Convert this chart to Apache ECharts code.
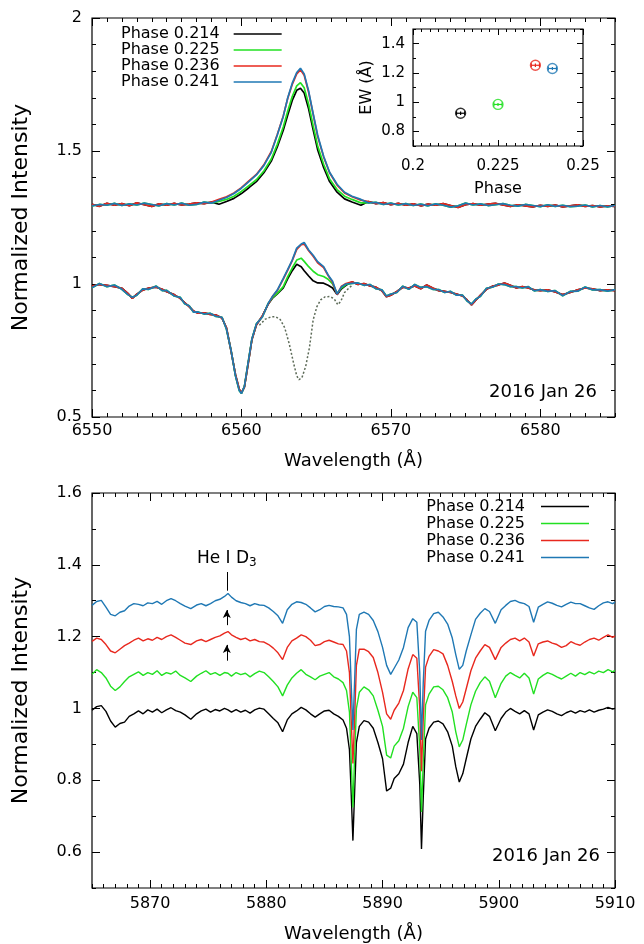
<!DOCTYPE html>
<html>
<head>
<meta charset="utf-8">
<script src="https://cdn.jsdelivr.net/npm/echarts@6/dist/echarts.min.js"></script>
<style>
  html, body { margin: 0; padding: 0; background: #fff; }
  #chart { width: 644px; height: 944px; }
</style>
</head>
<body>
<div id="chart"></div>
<script>
// series names and colours
const phaseNames = ['Phase 0.214', 'Phase 0.225', 'Phase 0.236', 'Phase 0.241']
const inkColors = ['#000000', '#22e022', '#e8281e', '#1f78b4']

// ---------- H-alpha panel (top) ----------
const haTicks = [6550, 6560, 6570, 6580]
const haYTicks = [0.5, 1, 1.5, 2]

// observed spectra, wings shared by the phases (two noisy readings, A and B)
const lowLeftWave = [6550.0, 6550.5, 6551.0, 6551.5, 6552.0, 6552.4, 6552.7, 6553.0, 6553.4, 6553.8,
  6554.3, 6554.7, 6555.0, 6555.5, 6555.9, 6556.2, 6556.5, 6556.8, 6557.1, 6557.5,
  6557.9, 6558.3, 6558.7, 6559.0, 6559.3, 6559.6, 6559.85, 6560.0, 6560.2, 6560.45,
  6560.7, 6561.0, 6561.4, 6561.8]
const lowLeftA = [0.992, 0.998, 0.995, 0.990, 0.984, 0.965, 0.946, 0.962, 0.977, 0.985,
  0.988, 0.980, 0.971, 0.960, 0.946, 0.930, 0.915, 0.898, 0.890, 0.892,
  0.886, 0.883, 0.872, 0.835, 0.750, 0.660, 0.605, 0.591, 0.612, 0.700,
  0.790, 0.846, 0.880, 0.925]
const lowLeftB = [0.986, 1.002, 0.990, 0.996, 0.980, 0.960, 0.950, 0.958, 0.982, 0.980,
  0.992, 0.975, 0.976, 0.955, 0.950, 0.926, 0.918, 0.894, 0.895, 0.887,
  0.890, 0.878, 0.875, 0.830, 0.752, 0.655, 0.600, 0.588, 0.615, 0.705,
  0.793, 0.850, 0.876, 0.928]
// H-alpha core, differs per phase
const lowCoreWave = [6562.1, 6562.4, 6562.8, 6563.1, 6563.4, 6563.7, 6564.0, 6564.2, 6564.5, 6564.8,
  6565.1, 6565.5, 6565.8, 6566.1, 6566.4, 6566.7, 6567.0]
const lowCoreBlack = [0.948, 0.963, 0.985, 1.020, 1.050, 1.074, 1.065, 1.050, 1.030, 1.012,
  1.004, 1.003, 0.995, 0.985, 0.960, 0.982, 0.995]
const lowCoreGreen = [0.950, 0.965, 0.990, 1.028, 1.060, 1.090, 1.097, 1.085, 1.065, 1.048,
  1.035, 1.028, 1.018, 1.000, 0.965, 0.985, 0.998]
const lowCoreRed = [0.955, 0.975, 1.018, 1.052, 1.088, 1.130, 1.148, 1.150, 1.125, 1.104,
  1.080, 1.062, 1.032, 1.006, 0.960, 0.992, 1.002]
const lowCoreBlue = [0.955, 0.977, 1.021, 1.055, 1.090, 1.135, 1.150, 1.156, 1.128, 1.108,
  1.084, 1.065, 1.034, 1.010, 0.962, 0.990, 1.000]
const lowRightWave = [6567.4, 6567.8, 6568.2, 6568.6, 6569.0, 6569.4, 6569.7, 6570.0, 6570.4, 6570.8,
  6571.2, 6571.6, 6572.0, 6572.4, 6572.8, 6573.2, 6573.6, 6574.0, 6574.4, 6574.8,
  6575.1, 6575.4, 6575.7, 6576.0, 6576.4, 6576.8, 6577.2, 6577.6, 6578.0, 6578.4,
  6578.8, 6579.2, 6579.6, 6580.0, 6580.5, 6581.0, 6581.5, 6582.0, 6582.5, 6583.0,
  6583.5, 6584.0, 6584.5, 6585.0]
const lowRightA = [1.008, 0.998, 1.002, 0.993, 0.988, 0.975, 0.952, 0.958, 0.972, 0.988,
  0.985, 0.993, 0.982, 0.996, 0.985, 0.975, 0.972, 0.968, 0.962, 0.955,
  0.940, 0.921, 0.940, 0.958, 0.980, 0.992, 0.996, 1.004, 0.995, 0.985,
  0.990, 0.985, 0.978, 0.975, 0.978, 0.970, 0.960, 0.968, 0.978, 0.985,
  0.982, 0.975, 0.978, 0.975]
const lowRightB = [1.002, 1.004, 0.995, 0.998, 0.982, 0.978, 0.955, 0.962, 0.968, 0.992,
  0.980, 0.998, 0.987, 0.990, 0.980, 0.979, 0.968, 0.972, 0.958, 0.958,
  0.936, 0.925, 0.944, 0.954, 0.984, 0.988, 1.000, 0.998, 0.990, 0.990,
  0.985, 0.990, 0.974, 0.979, 0.972, 0.975, 0.956, 0.972, 0.973, 0.989,
  0.978, 0.979, 0.973, 0.979]

// template spectrum (dotted)
const tmplWave = [6561.2, 6561.6, 6562.0, 6562.3, 6562.6, 6562.9, 6563.2, 6563.5, 6563.7, 6563.85,
  6564.05, 6564.3, 6564.55, 6564.8, 6565.05, 6565.3, 6565.6, 6565.9, 6566.2, 6566.45,
  6566.65, 6566.9, 6567.2, 6567.4]
const tmplFlux = [0.845, 0.868, 0.877, 0.877, 0.866, 0.835, 0.775, 0.700, 0.655, 0.640,
  0.648, 0.690, 0.760, 0.865, 0.915, 0.940, 0.952, 0.953, 0.945, 0.922,
  0.935, 0.968, 0.985, 0.995]

// subtracted spectra, offset by 0.3
const upLeftWave = [6550.0, 6550.5, 6551.0, 6551.5, 6552.0, 6552.5, 6553.0, 6553.5, 6554.0, 6554.5,
  6555.0, 6555.5, 6556.0, 6556.5, 6557.0, 6557.5, 6558.0]
const upLeftA = [1.300, 1.292, 1.303, 1.296, 1.302, 1.294, 1.305, 1.298, 1.292, 1.301,
  1.296, 1.303, 1.297, 1.300, 1.305, 1.302, 1.308]
const upLeftB = [1.294, 1.299, 1.296, 1.303, 1.295, 1.301, 1.297, 1.304, 1.299, 1.294,
  1.302, 1.297, 1.304, 1.296, 1.299, 1.308, 1.304]
const upCoreWave = [6558.5, 6559.0, 6559.5, 6560.0, 6560.5, 6561.0, 6561.5, 6562.0, 6562.4, 6562.8,
  6563.1, 6563.4, 6563.7, 6563.95, 6564.2, 6564.5, 6564.8, 6565.1, 6565.5, 6565.9,
  6566.4, 6566.9, 6567.4, 6568.0]
const upCoreBlack = [1.300, 1.310, 1.322, 1.340, 1.362, 1.385, 1.418, 1.462, 1.515, 1.578,
  1.635, 1.690, 1.728, 1.736, 1.718, 1.658, 1.580, 1.505, 1.438, 1.385,
  1.345, 1.320, 1.308, 1.296]
const upCoreGreen = [1.310, 1.318, 1.330, 1.348, 1.370, 1.392, 1.425, 1.470, 1.525, 1.590,
  1.650, 1.705, 1.745, 1.757, 1.738, 1.675, 1.595, 1.520, 1.450, 1.395,
  1.355, 1.330, 1.318, 1.305]
const upCoreRed = [1.318, 1.328, 1.342, 1.362, 1.388, 1.412, 1.448, 1.498, 1.562, 1.632,
  1.698, 1.750, 1.790, 1.805, 1.785, 1.720, 1.638, 1.555, 1.478, 1.418,
  1.372, 1.342, 1.328, 1.315]
const upCoreBlue = [1.315, 1.325, 1.340, 1.360, 1.385, 1.410, 1.445, 1.495, 1.560, 1.630,
  1.700, 1.755, 1.795, 1.811, 1.790, 1.725, 1.640, 1.560, 1.480, 1.420,
  1.375, 1.345, 1.330, 1.318]
const upRightWave = [6568.5, 6569.0, 6569.5, 6570.0, 6570.5, 6571.0, 6571.5, 6572.0, 6572.5, 6573.0,
  6573.5, 6574.0, 6574.5, 6575.0, 6575.5, 6576.0, 6576.5, 6577.0, 6577.5, 6578.0,
  6578.5, 6579.0, 6579.5, 6580.0, 6580.5, 6581.0, 6581.5, 6582.0, 6582.5, 6583.0,
  6583.5, 6584.0, 6584.5, 6585.0]
const upRightA = [1.310, 1.302, 1.306, 1.298, 1.303, 1.296, 1.301, 1.294, 1.300, 1.296,
  1.302, 1.295, 1.288, 1.298, 1.302, 1.296, 1.300, 1.303, 1.297, 1.292,
  1.298, 1.294, 1.290, 1.296, 1.292, 1.297, 1.290, 1.294, 1.298, 1.292,
  1.295, 1.290, 1.294, 1.292]
const upRightB = [1.305, 1.307, 1.299, 1.304, 1.297, 1.302, 1.295, 1.300, 1.294, 1.301,
  1.296, 1.289, 1.294, 1.304, 1.297, 1.301, 1.295, 1.298, 1.302, 1.296,
  1.293, 1.299, 1.295, 1.291, 1.298, 1.292, 1.296, 1.291, 1.293, 1.297,
  1.290, 1.295, 1.290, 1.295]

// ---------- inset: equivalent width ----------
const ewPhase = [0.214, 0.225, 0.236, 0.241]
const ewValue = [0.924, 0.984, 1.252, 1.230]
const ewPhaseErr = [0.0012, 0.0012, 0.0012, 0.0012]
const ewValueErr = [0.012, 0.010, 0.012, 0.010]
const ewXTicks = [0.2, 0.225, 0.25]
const ewYTicks = [0.8, 1, 1.2, 1.4]

// ---------- Na D panel (bottom) ----------
const naTicks = [5870, 5880, 5890, 5900, 5910]
const naYTicks = [0.6, 0.8, 1, 1.2, 1.4, 1.6]
const heWave = 5876.6

const naWave = [5865.0, 5865.4, 5865.8, 5866.2, 5866.6, 5867.0, 5867.4, 5867.8, 5868.2, 5868.6,
  5869.0, 5869.4, 5869.8, 5870.2, 5870.6, 5871.0, 5871.4, 5871.8, 5872.2, 5872.6,
  5873.0, 5873.5, 5874.0, 5874.4, 5874.8, 5875.2, 5875.6, 5876.0, 5876.4, 5876.7,
  5877.0, 5877.4, 5877.8, 5878.2, 5878.6, 5879.0, 5879.4, 5879.8, 5880.2, 5880.6,
  5881.0, 5881.4, 5881.8, 5882.2, 5882.6, 5883.0, 5883.4, 5883.8, 5884.2, 5884.6,
  5885.0, 5885.4, 5885.8, 5886.2, 5886.6, 5886.9, 5887.15, 5887.3, 5887.45, 5887.6,
  5887.75, 5888.0, 5888.4, 5888.8, 5889.2, 5889.6, 5890.0, 5890.35, 5890.7, 5891.0,
  5891.4, 5891.8, 5892.2, 5892.6, 5892.95, 5893.2, 5893.35, 5893.5, 5893.7, 5894.0,
  5894.4, 5894.8, 5895.2, 5895.6, 5896.0, 5896.3, 5896.6, 5896.9, 5897.2, 5897.6,
  5898.0, 5898.4, 5898.8, 5899.2, 5899.7, 5900.2, 5900.6, 5901.0, 5901.4, 5901.8,
  5902.2, 5902.6, 5903.0, 5903.4, 5903.8, 5904.2, 5904.6, 5905.0, 5905.4, 5905.8,
  5906.2, 5906.6, 5907.0, 5907.4, 5907.8, 5908.2, 5908.6, 5909.0, 5909.4, 5909.8,
  5910.0]
const naBlack = [0.995, 1.005, 1.008, 0.992, 0.965, 0.948, 0.958, 0.962, 0.978, 0.985,
  0.993, 0.985, 0.996, 0.990, 0.998, 0.988, 0.996, 1.002, 0.994, 0.990,
  0.982, 0.970, 0.985, 0.993, 0.998, 0.990, 0.997, 0.993, 1.000, 0.996,
  0.990, 0.997, 0.990, 0.995, 0.987, 0.996, 1.001, 0.998, 0.985, 0.972,
  0.960, 0.935, 0.968, 0.985, 0.993, 1.003, 0.996, 0.985, 0.976, 0.985,
  0.993, 0.995, 0.985, 0.978, 0.968, 0.945, 0.885, 0.765, 0.632, 0.770,
  0.905, 0.950, 0.966, 0.962, 0.945, 0.905, 0.860, 0.770, 0.778, 0.805,
  0.818, 0.845, 0.905, 0.950, 0.930, 0.790, 0.609, 0.750, 0.915, 0.945,
  0.962, 0.965, 0.957, 0.935, 0.895, 0.838, 0.795, 0.818, 0.860, 0.915,
  0.950, 0.970, 0.988, 0.978, 0.938, 0.972, 0.990, 1.000, 0.992, 0.985,
  0.994, 0.985, 0.940, 0.982, 0.990, 0.996, 0.992, 0.985, 0.980, 0.988,
  0.993, 0.987, 0.994, 0.990, 0.996, 0.990, 0.995, 0.998, 1.003, 0.998,
  1.000]
const naGreen = [1.095, 1.108, 1.100, 1.085, 1.062, 1.050, 1.060, 1.075, 1.088, 1.095,
  1.102, 1.092, 1.100, 1.095, 1.105, 1.092, 1.100, 1.096, 1.104, 1.092,
  1.085, 1.075, 1.090, 1.098, 1.105, 1.095, 1.100, 1.092, 1.100, 1.098,
  1.090, 1.100, 1.094, 1.098, 1.088, 1.097, 1.104, 1.100, 1.088, 1.075,
  1.060, 1.035, 1.065, 1.085, 1.098, 1.108, 1.095, 1.088, 1.080, 1.090,
  1.095, 1.100, 1.088, 1.082, 1.072, 1.050, 0.990, 0.860, 0.724, 0.870,
  1.000, 1.045, 1.060, 1.052, 1.035, 0.995, 0.950, 0.870, 0.862, 0.895,
  0.910, 0.945, 1.005, 1.045, 1.030, 0.890, 0.712, 0.850, 1.010, 1.040,
  1.060, 1.062, 1.052, 1.030, 0.990, 0.935, 0.893, 0.912, 0.955, 1.010,
  1.048, 1.072, 1.088, 1.076, 1.030, 1.070, 1.090, 1.100, 1.092, 1.085,
  1.098, 1.085, 1.040, 1.082, 1.092, 1.100, 1.095, 1.088, 1.082, 1.090,
  1.098, 1.090, 1.100, 1.094, 1.102, 1.096, 1.104, 1.100, 1.108, 1.102,
  1.106]
const naRed = [1.187, 1.196, 1.192, 1.178, 1.160, 1.155, 1.165, 1.175, 1.182, 1.190,
  1.196, 1.188, 1.194, 1.190, 1.198, 1.192, 1.200, 1.205, 1.198, 1.190,
  1.182, 1.178, 1.188, 1.192, 1.186, 1.192, 1.198, 1.202, 1.210, 1.214,
  1.205, 1.198, 1.192, 1.196, 1.188, 1.192, 1.186, 1.185, 1.178, 1.168,
  1.155, 1.136, 1.170, 1.188, 1.196, 1.205, 1.200, 1.190, 1.175, 1.178,
  1.186, 1.190, 1.185, 1.180, 1.178, 1.160, 1.100, 0.970, 0.847, 0.975,
  1.120, 1.165, 1.165, 1.158, 1.142, 1.100, 1.045, 0.985, 0.970, 0.995,
  1.015, 1.050, 1.110, 1.150, 1.140, 1.000, 0.825, 0.970, 1.115, 1.145,
  1.164, 1.160, 1.152, 1.120, 1.075, 1.035, 1.000, 1.018, 1.055, 1.105,
  1.140, 1.160, 1.178, 1.170, 1.136, 1.170, 1.182, 1.192, 1.196, 1.188,
  1.196, 1.185, 1.146, 1.180, 1.185, 1.188, 1.182, 1.178, 1.170, 1.175,
  1.186, 1.180, 1.176, 1.185, 1.192, 1.196, 1.190, 1.198, 1.205, 1.198,
  1.202]
const naBlue = [1.287, 1.298, 1.301, 1.282, 1.262, 1.258, 1.268, 1.272, 1.285, 1.292,
  1.290, 1.286, 1.294, 1.292, 1.298, 1.290, 1.300, 1.306, 1.300, 1.292,
  1.285, 1.278, 1.288, 1.292, 1.286, 1.292, 1.300, 1.304, 1.312, 1.320,
  1.310, 1.300, 1.295, 1.292, 1.286, 1.292, 1.288, 1.287, 1.280, 1.270,
  1.258, 1.237, 1.275, 1.290, 1.297, 1.295, 1.290, 1.280, 1.269, 1.275,
  1.284, 1.287, 1.284, 1.283, 1.280, 1.262, 1.200, 1.070, 0.940, 1.080,
  1.220, 1.262, 1.268, 1.262, 1.245, 1.214, 1.170, 1.120, 1.095, 1.112,
  1.135, 1.170, 1.225, 1.250, 1.240, 1.100, 0.912, 1.070, 1.215, 1.245,
  1.264, 1.268, 1.255, 1.235, 1.196, 1.150, 1.109, 1.120, 1.160, 1.205,
  1.248, 1.265, 1.278, 1.270, 1.237, 1.275, 1.287, 1.298, 1.301, 1.295,
  1.292, 1.284, 1.240, 1.282, 1.290, 1.297, 1.293, 1.287, 1.283, 1.290,
  1.296, 1.292, 1.292, 1.286, 1.280, 1.276, 1.286, 1.294, 1.297, 1.292,
  1.296]

const FONT = 'DejaVu Sans'

function pairs (wave, vals) {
  return wave.map((w, i) => [w, vals[i]])
}

// four axes per side: labelled minor-tick axis, major ticks, and mirrored copies
function boxAxes (dim, grid, min, max, step, majors, labels, opt) {
  const base = {
    gridIndex: grid,
    type: 'value',
    min: min,
    max: max,
    axisLine: { show: false, onZero: false },
    splitLine: { show: false }
  }
  const minor = Object.assign({}, base, {
    interval: step,
    axisTick: { inside: true, length: opt.minorLen || 4, lineStyle: { color: '#000', width: 1 } }
  })
  const major = Object.assign({}, base, {
    axisTick: { inside: true, length: opt.majorLen || 8, customValues: majors, lineStyle: { color: '#000', width: 1 } },
    axisLabel: { show: false }
  })
  const lo = dim === 'x' ? 'bottom' : 'left'
  const hi = dim === 'x' ? 'top' : 'right'
  return [
    Object.assign({}, minor, {
      position: lo,
      name: opt.name,
      nameLocation: 'middle',
      nameGap: opt.nameGap,
      nameTextStyle: { fontFamily: FONT, fontSize: opt.nameSize, color: '#000' },
      axisLabel: {
        customValues: labels,
        formatter: v => String(v),
        fontFamily: FONT,
        fontSize: opt.labelSize,
        color: '#000',
        margin: opt.margin
      }
    }),
    Object.assign({}, major, { position: lo }),
    Object.assign({}, minor, { position: hi, axisLabel: { show: false } }),
    Object.assign({}, major, { position: hi })
  ]
}

const xAxes = [].concat(
  boxAxes('x', 0, 6550, 6585, 1, haTicks, haTicks,
    { name: 'Wavelength (Å)', nameGap: 35, nameSize: 18, labelSize: 16, margin: 6 }),
  boxAxes('x', 1, 0.2, 0.25, 0.0025, ewXTicks, ewXTicks,
    { name: 'Phase', nameGap: 35, nameSize: 16, labelSize: 15, margin: 13, minorLen: 3, majorLen: 6 }),
  boxAxes('x', 2, 5865, 5910, 1, naTicks, naTicks,
    { name: 'Wavelength (Å)', nameGap: 37, nameSize: 18, labelSize: 16, margin: 8 })
)
const yAxes = [].concat(
  boxAxes('y', 0, 0.5, 2, 0.1, haYTicks, haYTicks,
    { name: 'Normalized Intensity', nameGap: 60, nameSize: 22, labelSize: 16, margin: 10 }),
  boxAxes('y', 1, 0.7, 1.5, 0.1, ewYTicks, ewYTicks,
    { name: 'EW (Å)', nameGap: 38, nameSize: 16, labelSize: 15, margin: 8, minorLen: 3, majorLen: 6 }),
  boxAxes('y', 2, 0.5, 1.6, 0.1, naYTicks, naYTicks,
    { name: 'Normalized Intensity', nameGap: 60, nameSize: 22, labelSize: 16, margin: 10 })
)

function spec (name, color, data, axis, width) {
  return {
    name: name,
    type: 'line',
    xAxisIndex: axis,
    yAxisIndex: axis,
    data: data,
    symbol: 'none',
    animation: false,
    lineStyle: { color: color, width: width },
    itemStyle: { color: color },
    z: 3
  }
}

const lowCores = [lowCoreBlack, lowCoreGreen, lowCoreRed, lowCoreBlue]
const upCores = [upCoreBlack, upCoreGreen, upCoreRed, upCoreBlue]
const naSets = [naBlack, naGreen, naRed, naBlue]

const series = []
phaseNames.forEach((name, i) => {
  const a = i % 2 === 0
  series.push(spec(name, inkColors[i],
    pairs(upLeftWave, a ? upLeftA : upLeftB).concat(pairs(upCoreWave, upCores[i]),
      pairs(upRightWave, a ? upRightA : upRightB)), 0, 1.7))
  series.push(spec(name, inkColors[i],
    pairs(lowLeftWave, a ? lowLeftA : lowLeftB).concat(pairs(lowCoreWave, lowCores[i]),
      pairs(lowRightWave, a ? lowRightA : lowRightB)), 0, 1.7))
})
series.push({
  name: 'template',
  type: 'line',
  data: pairs(tmplWave, tmplFlux),
  symbol: 'none',
  animation: false,
  lineStyle: { color: '#5d6b58', width: 1.5, type: [2, 2] },
  z: 4
})

// inset: open circles, error bars on top
series.push({
  name: 'EW',
  type: 'scatter',
  xAxisIndex: 4,
  yAxisIndex: 4,
  animation: false,
  symbol: 'circle',
  symbolSize: 10,
  z: 3,
  data: ewPhase.map((p, i) => ({
    value: [p, ewValue[i]],
    itemStyle: { color: 'rgba(0,0,0,0)', borderColor: inkColors[i], borderWidth: 1.3 }
  }))
})
series.push({
  name: 'EW err',
  type: 'custom',
  xAxisIndex: 4,
  yAxisIndex: 4,
  animation: false,
  z: 5,
  data: ewPhase.map((p, i) => [p, ewValue[i], ewPhaseErr[i], ewValueErr[i]]),
  encode: { x: 0, y: 1 },
  renderItem (params, api) {
    const x = api.value(0)
    const y = api.value(1)
    const l = api.coord([x - api.value(2), y])
    const r = api.coord([x + api.value(2), y])
    const b = api.coord([x, y - api.value(3)])
    const t = api.coord([x, y + api.value(3)])
    const style = { stroke: inkColors[params.dataIndex], lineWidth: 1.2 }
    return {
      type: 'group',
      children: [
        { type: 'line', shape: { x1: l[0], y1: l[1], x2: r[0], y2: r[1] }, style },
        { type: 'line', shape: { x1: l[0], y1: l[1] - 2, x2: l[0], y2: l[1] + 2 }, style },
        { type: 'line', shape: { x1: r[0], y1: r[1] - 2, x2: r[0], y2: r[1] + 2 }, style },
        { type: 'line', shape: { x1: b[0], y1: b[1], x2: t[0], y2: t[1] }, style }
      ]
    }
  }
})

// Na D panel
phaseNames.forEach((name, i) => {
  const s = spec(name, inkColors[i], pairs(naWave, naSets[i]), 8, 1.4)
  if (i === 3) {
    s.markLine = {
      silent: true,
      animation: false,
      symbol: ['none', 'none'],
      label: { show: false },
      lineStyle: { color: '#000', width: 1, type: 'solid' },
      data: [
        [{ coord: [heWave, 1.328] }, { coord: [heWave, 1.38] }],
        [{ coord: [heWave, 1.232], symbol: 'none' }, { coord: [heWave, 1.274], symbol: 'arrow', symbolSize: [6, 8] }],
        [{ coord: [heWave, 1.133], symbol: 'none' }, { coord: [heWave, 1.177], symbol: 'arrow', symbolSize: [6, 8] }]
      ]
    }
    s.markPoint = {
      silent: true,
      animation: false,
      symbol: 'circle',
      symbolSize: 0,
      data: [{ coord: [heWave, 1.418] }],
      label: {
        show: true,
        position: 'inside',
        formatter: '{a|He I D}{s|3}',
        rich: {
          a: { fontFamily: FONT, fontSize: 17, color: '#000' },
          s: { fontFamily: FONT, fontSize: 12, color: '#000', padding: [10, 0, 0, 0] }
        }
      }
    }
  }
  series.push(s)
})

const legendBase = {
  orient: 'vertical',
  align: 'right',
  icon: 'rect',
  itemWidth: 48,
  itemHeight: 1.6,
  itemGap: 0,
  padding: 0,
  data: phaseNames
}
const legendText = { fontFamily: FONT, fontSize: 16, color: '#000' }

const option = {
  animation: false,
  backgroundColor: '#fff',
  textStyle: { fontFamily: FONT },
  title: [
    { text: '2016 Jan 26', right: 47, top: 383, padding: 0, textStyle: { fontFamily: FONT, fontSize: 18, fontWeight: 'normal', color: '#000' } },
    { text: '2016 Jan 26', right: 44, top: 847, padding: 0, textStyle: { fontFamily: FONT, fontSize: 18, fontWeight: 'normal', color: '#000' } }
  ],
  legend: [
    Object.assign({}, legendBase, { left: 121, top: 26, textStyle: Object.assign({ lineHeight: 16, padding: [0, 9, 0, 0] }, legendText) }),
    Object.assign({}, legendBase, { right: 55, top: 498, textStyle: Object.assign({ lineHeight: 17, padding: [0, 11, 0, 0] }, legendText) })
  ],
  grid: [
    { left: 92, top: 18, width: 523, height: 399, show: true, borderColor: '#000', borderWidth: 1.2, backgroundColor: 'transparent' },
    { left: 413, top: 29, width: 170, height: 117, show: true, borderColor: '#000', borderWidth: 1.2, backgroundColor: 'transparent' },
    { left: 92, top: 493, width: 523, height: 400, show: true, borderColor: '#000', borderWidth: 1.2, backgroundColor: 'transparent' }
  ],
  xAxis: xAxes,
  yAxis: yAxes,
  series: series
}

const chart = echarts.init(document.getElementById('chart'), null, { renderer: 'canvas' })
chart.setOption(option)
</script>
</body>
</html>
